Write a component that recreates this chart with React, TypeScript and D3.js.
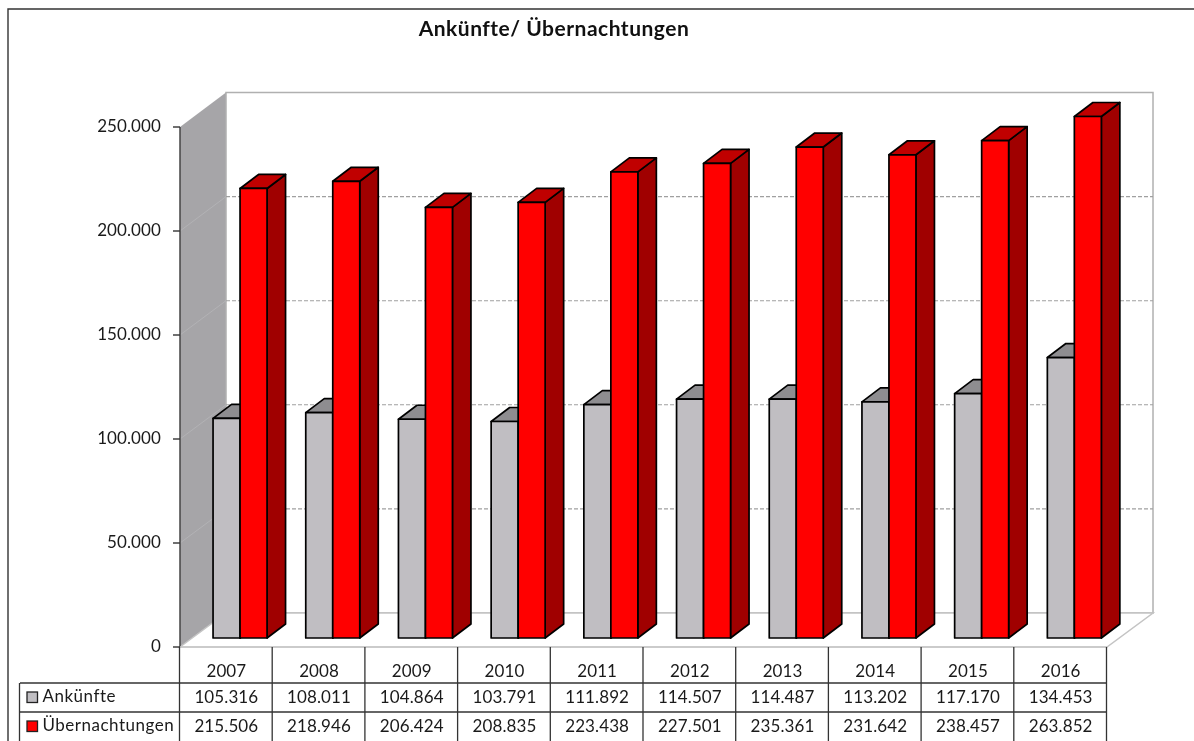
import React from "react";
import * as d3 from "d3";

const years = ["2007","2008","2009","2010","2011","2012","2013","2014","2015","2016"];
const arrivals = [105316,108011,104864,103791,111892,114507,114487,113202,117170,134453];
const nights = [215506,218946,206424,208835,223438,227501,235361,231642,238457,263852];
const yTicks = [0,50000,100000,150000,200000,250000];
const seriesNames = ["Ankünfte","Übernachtungen"];
const FONT = "Lato, 'Noto Sans', sans-serif";
const fmt = (v:number)=> v===0 ? "0" : d3.format(",")(v).replace(/,/g,".");

const W=1194,H=741;
const x = d3.scaleBand<string>().domain(years).range([180,1107]);
const yAxis = d3.scaleLinear().domain([0,250000]).range([647,127]);
const yBack = d3.scaleLinear().domain([0,250000]).range([613,92.5]);
const yBar = d3.scaleLinear().domain([0,250000]).range([638,116.5]).clamp(true);
const wallDx=46, barW=27, shift=13.7, dDx=18.5, dDy=14;
const pts=(a:number[][])=>a.map(p=>p.join(",")).join(" ");

function Bar({x0,v,front,top,side}:{x0:number;v:number;front:string;top:string;side:string}){
  const yt=yBar(v), yb=yBar(0), x1=x0+barW;
  const st={stroke:"#000",strokeWidth:1.7,strokeLinejoin:"round" as const};
  return <g>
    <polygon points={pts([[x1,yt],[x1+dDx,yt-dDy],[x1+dDx,yb-dDy],[x1,yb]])} fill={side} {...st}/>
    <polygon points={pts([[x0,yt],[x0+dDx,yt-dDy],[x1+dDx,yt-dDy],[x1,yt]])} fill={top} {...st}/>
    <rect x={x0} y={yt} width={barW} height={yb-yt} fill={front} {...st}/>
  </g>;
}

export default function App(){
  const xL=x.range()[0], xR=x.range()[1];
  const yZero=yAxis(0), yTop=yAxis(250000);
  const edges=[...years.map(d=>x(d)!),xR];
  const rows=[arrivals,nights];
  const rowTop=[683,712], rowBot=741;
  const legendFill=["#c0bec2","#ff0000"];
  const tf={fontFamily:FONT,fontSize:17,fill:"#1a1a1a",letterSpacing:0.1};
  return <svg width={W} height={H} viewBox={`0 0 ${W} ${H}`} style={{position:"absolute",left:0,top:0,background:"#fff",filter:"blur(0.35px)"}}>
    <path d={`M8 ${H}V9H${W}`} fill="none" stroke="#333" strokeWidth={1.4}/>
    <text x={554} y={36} textAnchor="middle" fontFamily={FONT} fontWeight={700} fontSize={21} letterSpacing={0.5} fill="#111">Ankünfte/ Übernachtungen</text>

    <polygon points={pts([[xL,yTop],[xL+wallDx,yBack(250000)],[xL+wallDx,yBack(0)],[xL,yZero]])} fill="#a6a5a8"/>
    <rect x={xL+wallDx} y={yBack(250000)} width={xR-xL} height={yBack(0)-yBack(250000)} fill="#fff" stroke="#b0b0b0" strokeWidth={1.5}/>
    <polygon points={pts([[xL,yZero],[xL+wallDx,yBack(0)],[xR+wallDx,yBack(0)],[xR,yZero]])} fill="#fff" stroke="#c4c4c4" strokeWidth={1.5}/>
    {yTicks.slice(1,-1).map(t=><g key={t}>
      <line x1={xL} y1={yAxis(t)} x2={xL+wallDx} y2={yBack(t)} stroke="#b8b8ba" strokeWidth={0.7}/>
      <line x1={xL+wallDx} y1={yBack(t)} x2={xR+wallDx} y2={yBack(t)} stroke="#a0a0a0" strokeWidth={1.1} strokeDasharray="4 2"/>
    </g>)}

    {years.map((d,i)=>{
      const c=x(d)!+x.bandwidth()/2+shift;
      return <g key={d}>
        <Bar x0={c-barW} v={arrivals[i]} front="#c0bec2" top="#8e8d90" side="#6f6e70"/>
        <Bar x0={c} v={nights[i]} front="#ff0000" top="#c00000" side="#a00000"/>
      </g>;
    })}

    <line x1={xL} y1={yTop} x2={xL} y2={yZero} stroke="#444" strokeWidth={1.5}/>
    <line x1={xL} y1={yZero} x2={xR} y2={yZero} stroke="#c8c8c8" strokeWidth={1.5}/>
    {yTicks.map(t=><g key={t}>
      <line x1={xL-7} y1={yAxis(t)} x2={xL} y2={yAxis(t)} stroke="#333" strokeWidth={1.4}/>
      <text x={161} y={yAxis(t)+5} textAnchor="end" {...tf}>{fmt(t)}</text>
    </g>)}

    {edges.map(e=><line key={e} x1={e-0.5} y1={yZero} x2={e-0.5} y2={rowTop[0]} stroke="#333" strokeWidth={1.3}/>)}
    {years.map(d=><text key={d} x={x(d)!+x.bandwidth()/2} y={677} textAnchor="middle" {...tf}>{d}</text>)}

    {rowTop.map(r=><line key={r} x1={20} y1={r} x2={xR} y2={r} stroke="#333" strokeWidth={1.4}/>)}
    {[20,...edges].map(e=><line key={e} x1={e-0.5} y1={rowTop[0]} x2={e-0.5} y2={rowBot} stroke="#333" strokeWidth={1.3}/>)}
    {rows.map((vals,ri)=><g key={ri}>
      <rect x={27} y={rowTop[ri]+9} width={10.5} height={10.5} fill={legendFill[ri]} stroke="#222" strokeWidth={1.3}/>
      <text x={42.5} y={rowTop[ri]+19} {...tf} letterSpacing={0.5}>{seriesNames[ri]}</text>
      {vals.map((v,i)=><text key={i} x={x(years[i])!+x.bandwidth()/2} y={rowTop[ri]+19.5} textAnchor="middle" {...tf}>{fmt(v)}</text>)}
    </g>)}
  </svg>;
}
